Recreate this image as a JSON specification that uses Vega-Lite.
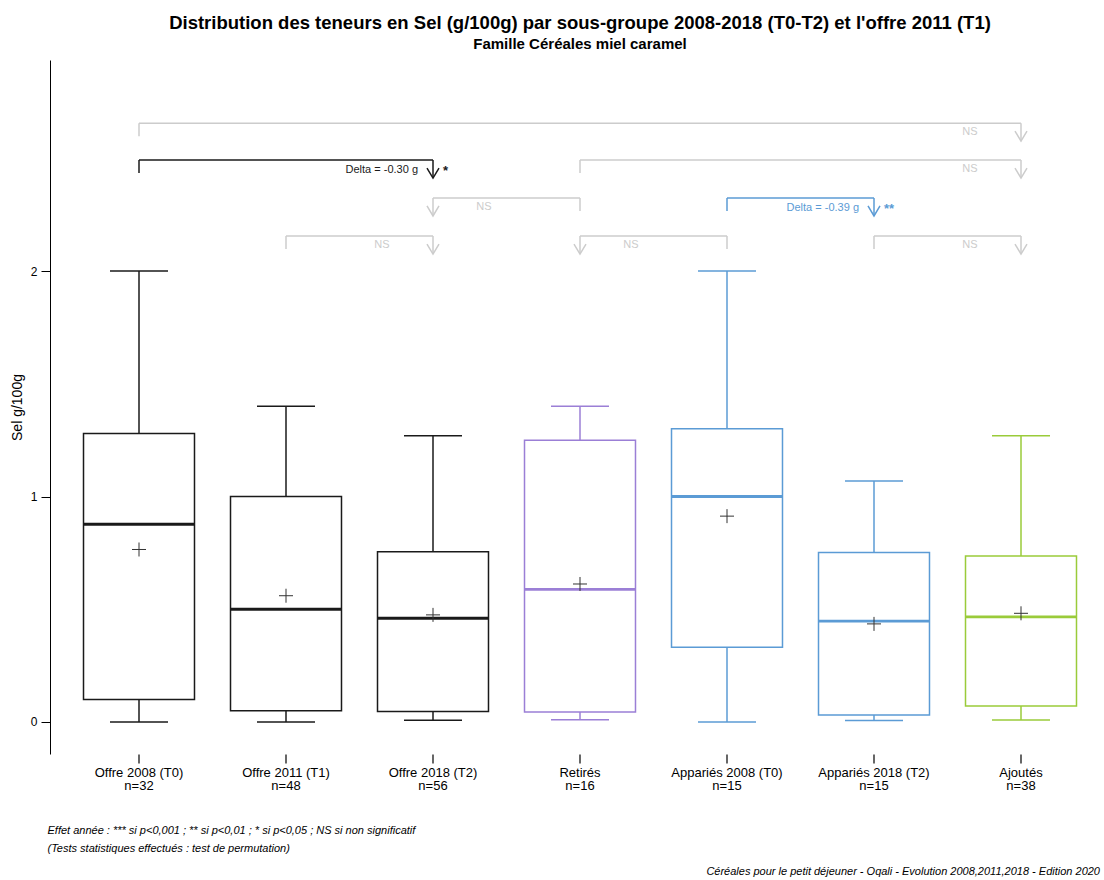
{
  "$schema": "https://vega.github.io/schema/vega-lite/v6.json",
  "autosize": {"type": "none"},
  "padding": {"left": 65.5, "top": 60, "right": 9.5, "bottom": 126},
  "width": 1029,
  "height": 694,
  "background": "white",
  "config": {
    "font": "Liberation Sans",
    "view": {"stroke": null},
    "tick": {"opacity": 1},
    "axis": {"domainColor": "black", "tickColor": "black", "labelColor": "black", "titleColor": "black", "grid": false, "labelFont": "Liberation Sans", "titleFont": "Liberation Sans"}
  },
  "title": {
    "text": "Distribution des teneurs en Sel (g/100g) par sous-groupe 2008-2018 (T0-T2) et l'offre 2011 (T1)",
    "subtitle": "Famille Céréales miel caramel",
    "anchor": "middle",
    "font": "Liberation Sans",
    "fontSize": 18.5,
    "fontWeight": "bold",
    "color": "black",
    "subtitleFont": "Liberation Sans",
    "subtitleFontSize": 15,
    "subtitleFontWeight": "bold",
    "subtitleColor": "black",
    "subtitlePadding": 5,
    "offset": 8
  },
  "datasets": {
    "boxes": [
      {"g": "Offre 2008 (T0)|n=32", "t": "Offre", "min": 0, "q1": 0.10, "med": 0.877, "q3": 1.28, "max": 2.0, "mean": 0.765},
      {"g": "Offre 2011 (T1)|n=48", "t": "Offre", "min": 0, "q1": 0.05, "med": 0.50, "q3": 1.0, "max": 1.40, "mean": 0.56},
      {"g": "Offre 2018 (T2)|n=56", "t": "Offre", "min": 0.008, "q1": 0.046, "med": 0.46, "q3": 0.755, "max": 1.27, "mean": 0.475},
      {"g": "Retirés|n=16", "t": "Retirés", "min": 0.01, "q1": 0.044, "med": 0.588, "q3": 1.25, "max": 1.40, "mean": 0.612},
      {"g": "Appariés 2008 (T0)|n=15", "t": "Appariés", "min": 0, "q1": 0.331, "med": 1.0, "q3": 1.30, "max": 2.0, "mean": 0.913},
      {"g": "Appariés 2018 (T2)|n=15", "t": "Appariés", "min": 0.007, "q1": 0.031, "med": 0.447, "q3": 0.752, "max": 1.069, "mean": 0.435},
      {"g": "Ajoutés|n=38", "t": "Ajoutés", "min": 0.009, "q1": 0.071, "med": 0.466, "q3": 0.736, "max": 1.27, "mean": 0.482}
    ],
    "brackets": [
      {"level": 2.656, "from": "Offre 2008 (T0)|n=32", "to": "Ajoutés|n=38", "t": "NS", "lab": "NS", "side": "r", "stars": ""},
      {"level": 2.492, "from": "Offre 2008 (T0)|n=32", "to": "Offre 2018 (T2)|n=56", "t": "Offre", "lab": "Delta = -0.30 g", "side": "r", "stars": "*"},
      {"level": 2.492, "from": "Retirés|n=16", "to": "Ajoutés|n=38", "t": "NS", "lab": "NS", "side": "r", "stars": ""},
      {"level": 2.324, "from": "Retirés|n=16", "to": "Offre 2018 (T2)|n=56", "t": "NS", "lab": "NS", "side": "l", "stars": ""},
      {"level": 2.324, "from": "Appariés 2008 (T0)|n=15", "to": "Appariés 2018 (T2)|n=15", "t": "Appariés", "lab": "Delta = -0.39 g", "side": "r", "stars": "**"},
      {"level": 2.155, "from": "Offre 2011 (T1)|n=48", "to": "Offre 2018 (T2)|n=56", "t": "NS", "lab": "NS", "side": "r", "stars": ""},
      {"level": 2.155, "from": "Appariés 2008 (T0)|n=15", "to": "Retirés|n=16", "t": "NS", "lab": "NS", "side": "l", "stars": ""},
      {"level": 2.155, "from": "Appariés 2018 (T2)|n=15", "to": "Ajoutés|n=38", "t": "NS", "lab": "NS", "side": "r", "stars": ""}
    ],
    "notes": [
      {"g": "Ajoutés|n=38", "y": -0.665, "txt": "Céréales pour le petit déjeuner - Oqali - Evolution 2008,2011,2018 - Edition 2020"}
    ]
  },
  "layer": [
    {
      "data": {"name": "boxes"},
      "mark": {"type": "rule", "strokeWidth": 1.5},
      "encoding": {
        "x": {"field": "g", "type": "nominal",
          "scale": {"type": "band", "paddingInner": 0, "paddingOuter": 0, "domain": ["Offre 2008 (T0)|n=32", "Offre 2011 (T1)|n=48", "Offre 2018 (T2)|n=56", "Retirés|n=16", "Appariés 2008 (T0)|n=15", "Appariés 2018 (T2)|n=15", "Ajoutés|n=38"]},
          "axis": {
            "labelExpr": "split(datum.value, '|')",
            "labelAngle": 0,
            "labelFontSize": 13,
            "labelLineHeight": 13,
            "labelPadding": 3,
            "tickSize": 9,
            "tickWidth": 1.2,
            "domain": false,
            "title": ["Effet année : *** si p<0,001 ; ** si p<0,01 ; * si p<0,05 ; NS si non significatif", "(Tests statistiques effectués : test de permutation)"],
            "titleFontSize": 11,
            "titleFontStyle": "italic",
            "titleFontWeight": "normal",
            "titleAnchor": "start",
            "titleAlign": "left",
            "titleBaseline": "top",
            "titleLineHeight": 18,
            "titleX": -18.5,
            "titleY": 70
          }
        },
        "y": {"field": "q3", "type": "quantitative",
          "scale": {"domain": [-0.142, 2.936], "nice": false, "zero": false},
          "axis": {"values": [0, 1, 2], "format": "d", "offset": 15.5, "tickSize": 9, "labelFontSize": 12, "labelPadding": 4, "title": "Sel g/100g", "titleFontSize": 14, "titleFontWeight": "normal", "titlePadding": 6}
        },
        "y2": {"field": "max"},
        "color": {"field": "t", "type": "nominal", "legend": null,
          "scale": {"domain": ["Offre", "Retirés", "Appariés", "Ajoutés", "NS"], "range": ["#1a1a1a", "#9b7fd6", "#5b9bd5", "#9acb3a", "#cccccc"]}}
      }
    },
    {
      "data": {"name": "boxes"},
      "mark": {"type": "rule", "strokeWidth": 1.5},
      "encoding": {
        "x": {"field": "g", "type": "nominal"},
        "y": {"field": "min", "type": "quantitative"},
        "y2": {"field": "q1"},
        "color": {"field": "t", "type": "nominal", "legend": null}
      }
    },
    {
      "data": {"name": "boxes"},
      "mark": {"type": "tick", "size": 58, "thickness": 1.5, "orient": "horizontal", "opacity": 1},
      "encoding": {
        "x": {"field": "g", "type": "nominal"},
        "y": {"field": "max", "type": "quantitative"},
        "color": {"field": "t", "type": "nominal", "legend": null}
      }
    },
    {
      "data": {"name": "boxes"},
      "mark": {"type": "tick", "size": 58, "thickness": 1.5, "orient": "horizontal", "opacity": 1},
      "encoding": {
        "x": {"field": "g", "type": "nominal"},
        "y": {"field": "min", "type": "quantitative"},
        "color": {"field": "t", "type": "nominal", "legend": null}
      }
    },
    {
      "data": {"name": "boxes"},
      "mark": {"type": "bar", "width": {"band": 0.755}, "fill": "white", "strokeWidth": 1.5},
      "encoding": {
        "x": {"field": "g", "type": "nominal"},
        "y": {"field": "q1", "type": "quantitative"},
        "y2": {"field": "q3"},
        "stroke": {"field": "t", "type": "nominal", "legend": null, "scale": {"domain": ["Offre", "Retirés", "Appariés", "Ajoutés", "NS"], "range": ["#1a1a1a", "#9b7fd6", "#5b9bd5", "#9acb3a", "#cccccc"]}}
      }
    },
    {
      "data": {"name": "boxes"},
      "mark": {"type": "tick", "size": 111, "thickness": 2.8, "orient": "horizontal", "opacity": 1},
      "encoding": {
        "x": {"field": "g", "type": "nominal"},
        "y": {"field": "med", "type": "quantitative"},
        "color": {"field": "t", "type": "nominal", "legend": null}
      }
    },
    {
      "data": {"name": "boxes"},
      "mark": {"type": "point", "shape": "M-1,0L1,0M0,-1L0,1", "size": 196, "filled": false, "color": "#333333", "strokeWidth": 1, "opacity": 1},
      "encoding": {
        "x": {"field": "g", "type": "nominal"},
        "y": {"field": "mean", "type": "quantitative"}
      }
    },
    {
      "data": {"name": "brackets"},
      "mark": {"type": "rule", "strokeWidth": 1.5},
      "encoding": {
        "x": {"field": "from", "type": "nominal"},
        "x2": {"field": "to"},
        "y": {"field": "level", "type": "quantitative"},
        "color": {"field": "t", "type": "nominal", "legend": null}
      }
    },
    {
      "data": {"name": "brackets"},
      "mark": {"type": "rule", "strokeWidth": 1.5, "y2Offset": 13},
      "encoding": {
        "x": {"field": "from", "type": "nominal"},
        "y": {"field": "level", "type": "quantitative"},
        "y2": {"field": "level"},
        "color": {"field": "t", "type": "nominal", "legend": null}
      }
    },
    {
      "data": {"name": "brackets"},
      "mark": {"type": "rule", "strokeWidth": 1.5, "y2Offset": 18},
      "encoding": {
        "x": {"field": "to", "type": "nominal"},
        "y": {"field": "level", "type": "quantitative"},
        "y2": {"field": "level"},
        "color": {"field": "t", "type": "nominal", "legend": null}
      }
    },
    {
      "data": {"name": "brackets"},
      "mark": {"type": "point", "shape": "M-0.6,-1L0,0L0.6,-1", "size": 400, "filled": false, "strokeWidth": 1.5, "yOffset": 18, "opacity": 1},
      "encoding": {
        "x": {"field": "to", "type": "nominal"},
        "y": {"field": "level", "type": "quantitative"},
        "color": {"field": "t", "type": "nominal", "legend": null}
      }
    },
    {
      "data": {"name": "brackets"},
      "transform": [{"filter": "datum.lab == 'NS' && datum.side == 'r'"}],
      "mark": {"type": "text", "fontSize": 11, "align": "center", "baseline": "middle", "dx": -51, "yOffset": 9},
      "encoding": {
        "x": {"field": "to", "type": "nominal"},
        "y": {"field": "level", "type": "quantitative"},
        "text": {"field": "lab"},
        "color": {"field": "t", "type": "nominal", "legend": null}
      }
    },
    {
      "data": {"name": "brackets"},
      "transform": [{"filter": "datum.lab == 'NS' && datum.side == 'l'"}],
      "mark": {"type": "text", "fontSize": 11, "align": "center", "baseline": "middle", "dx": 51, "yOffset": 9},
      "encoding": {
        "x": {"field": "to", "type": "nominal"},
        "y": {"field": "level", "type": "quantitative"},
        "text": {"field": "lab"},
        "color": {"field": "t", "type": "nominal", "legend": null}
      }
    },
    {
      "data": {"name": "brackets"},
      "transform": [{"filter": "datum.lab != 'NS'"}],
      "mark": {"type": "text", "fontSize": 11, "align": "right", "baseline": "middle", "dx": -15, "yOffset": 10},
      "encoding": {
        "x": {"field": "to", "type": "nominal"},
        "y": {"field": "level", "type": "quantitative"},
        "text": {"field": "lab"},
        "color": {"field": "t", "type": "nominal", "legend": null}
      }
    },
    {
      "data": {"name": "brackets"},
      "transform": [{"filter": "datum.stars != ''"}],
      "mark": {"type": "text", "fontSize": 13, "fontWeight": "bold", "align": "left", "baseline": "middle", "dx": 10, "yOffset": 11},
      "encoding": {
        "x": {"field": "to", "type": "nominal"},
        "y": {"field": "level", "type": "quantitative"},
        "text": {"field": "stars"},
        "color": {"field": "t", "type": "nominal", "legend": null}
      }
    },
    {
      "data": {"name": "notes"},
      "mark": {"type": "text", "fontSize": 11, "fontStyle": "italic", "align": "right", "baseline": "middle", "dx": 79, "color": "black"},
      "encoding": {
        "x": {"field": "g", "type": "nominal"},
        "y": {"field": "y", "type": "quantitative"},
        "text": {"field": "txt"}
      }
    }
  ]
}
